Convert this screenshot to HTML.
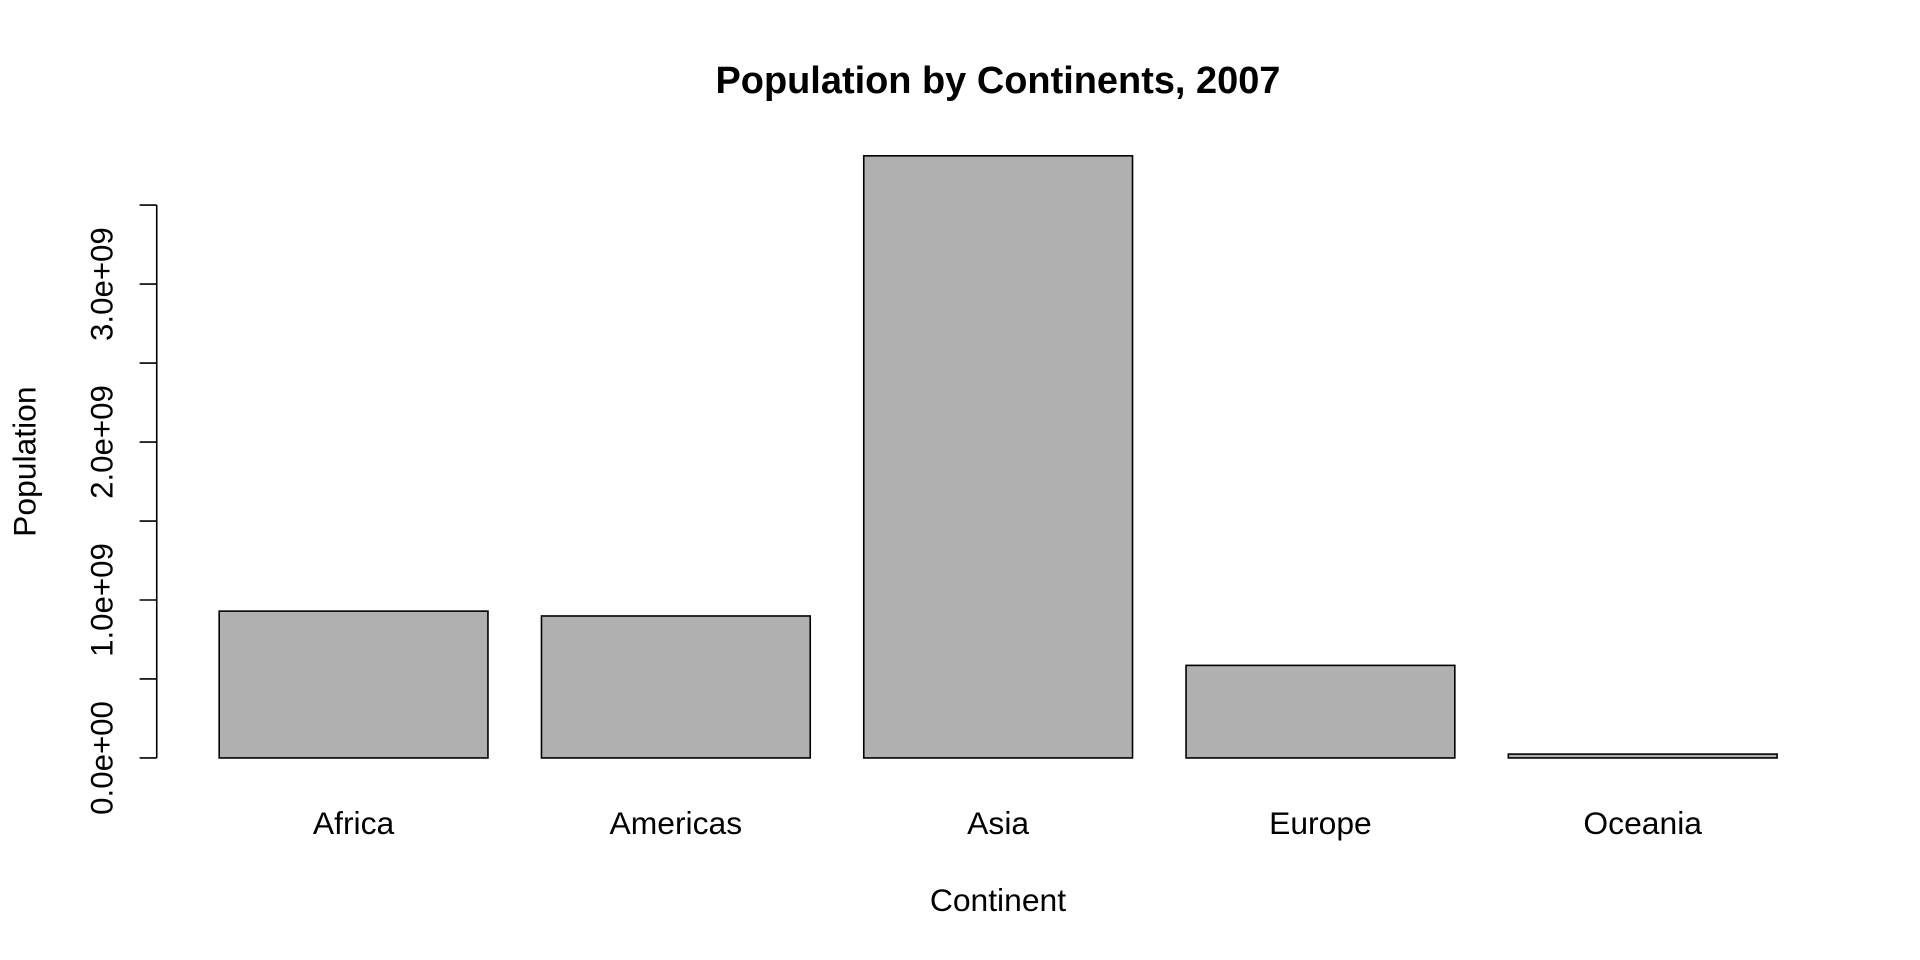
<!DOCTYPE html>
<html><head><meta charset="utf-8"><style>
html,body{margin:0;padding:0;background:#fff;}
svg{display:block;font-family:"Liberation Sans",Arial,sans-serif;}
</style></head><body>
<svg id="chart" width="1920" height="960" viewBox="0 0 1568 784" xmlns="http://www.w3.org/2000/svg">
<text x="815" y="76" text-anchor="middle" font-size="31" font-weight="bold">Population by Continents, 2007</text>
<text x="815" y="744" text-anchor="middle" font-size="26">Continent</text>
<text transform="translate(29,377) rotate(-90)" text-anchor="middle" font-size="26">Population</text>
<g id="bars"></g>
<g id="axis"></g>
</svg>
<script>
const categories = ["Africa","Americas","Asia","Europe","Oceania"];
const populations = [929539692, 898871184, 3811953827, 586098529, 24549947];
const tickValues = [0, 0.5e9, 1e9, 1.5e9, 2e9, 2.5e9, 3e9, 3.5e9];
const tickLabels = ["0.0e+00", "", "1.0e+09", "", "2.0e+09", "", "3.0e+09", ""];

const NS = "http://www.w3.org/2000/svg";
const y0 = 619, pxPerUnit = 129 / 1e9;
function yScale(v){ return y0 - v * pxPerUnit; }
function xLeft(i){ return 179 + i * 263.2; }
const barW = 219.5;

const bars = document.getElementById("bars");
categories.forEach((c, i) => {
  const r = document.createElementNS(NS, "rect");
  
  
  const top = yScale(populations[i]);
  r.setAttribute("x", xLeft(i)); r.setAttribute("y", top);
  r.setAttribute("width", barW); r.setAttribute("height", y0 - top);
  r.setAttribute("fill", "#b0b0b0"); r.setAttribute("stroke", "#000"); r.setAttribute("stroke-width", "1.3");
  bars.appendChild(r);
  const t = document.createElementNS(NS, "text");
  
  
  t.setAttribute("x", xLeft(i) + barW / 2); t.setAttribute("y", 681);
  t.setAttribute("text-anchor", "middle"); t.setAttribute("font-size", "26");
  t.textContent = c;
  bars.appendChild(t);
});

const axis = document.getElementById("axis");
const ax = document.createElementNS(NS, "line");


ax.setAttribute("x1", 128); ax.setAttribute("x2", 128);
ax.setAttribute("y1", yScale(tickValues[0])); ax.setAttribute("y2", yScale(tickValues[tickValues.length - 1]));
ax.setAttribute("stroke", "#000"); ax.setAttribute("stroke-width", "1.3");
axis.appendChild(ax);
tickValues.forEach((v, i) => {
  const y = yScale(v);
  const l = document.createElementNS(NS, "line");
  
  
  l.setAttribute("x1", 114); l.setAttribute("x2", 128); l.setAttribute("y1", y); l.setAttribute("y2", y);
  l.setAttribute("stroke", "#000"); l.setAttribute("stroke-width", "1.3");
  axis.appendChild(l);
  if (tickLabels[i]) {
    const t = document.createElementNS(NS, "text");
    
    
    t.setAttribute("transform", "translate(92," + y + ") rotate(-90)");
    t.setAttribute("text-anchor", "middle"); t.setAttribute("font-size", "25.5");
    t.textContent = tickLabels[i];
    axis.appendChild(t);
  }
});
</script>
</body></html>
